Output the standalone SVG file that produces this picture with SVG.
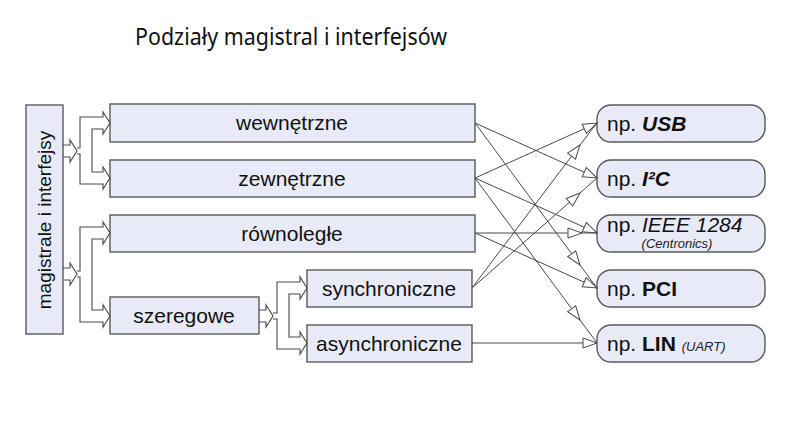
<svg xmlns="http://www.w3.org/2000/svg" width="800" height="426" viewBox="0 0 800 426">
<style>
.box{fill:#E8EBF7;stroke:#5a5a5a;stroke-width:1.4}
.t{font-family:"Liberation Sans",Arial,sans-serif;font-size:21px;fill:#111}
.s{font-family:"Liberation Sans",Arial,sans-serif;font-size:13px;font-style:italic;fill:#222}
.c{fill:none;stroke:#4a4a4a;stroke-width:1}
.h{fill:none;stroke:#4a4a4a;stroke-width:1.1}
</style>
<defs>
<marker id="ah" markerUnits="userSpaceOnUse" viewBox="-1 -1 16 12" refX="14" refY="5" markerWidth="16" markerHeight="12" orient="auto" overflow="visible">
<path d="M0,0 L14,5 L0,10 Z" fill="#fff" stroke="#4a4a4a" stroke-width="1"/>
</marker>
</defs>
<rect width="800" height="426" fill="#fff"/>
<text x="291" y="45" text-anchor="middle" font-family="'Noto Sans','Open Sans',sans-serif" font-size="23" fill="#111" textLength="312" lengthAdjust="spacingAndGlyphs">Podziały magistral i interfejsów</text>

<g id="n-magistrale">
<rect class="box" x="26" y="105" width="37" height="229"/>
<text class="t" font-size="19" transform="translate(51,220) rotate(-90)" text-anchor="middle" style="font-size:19px">magistrale i interfejsy</text>
</g>
<g id="n-wewnetrzne">
<rect class="box" x="110" y="104" width="365" height="38"/>
<text class="t" x="292" y="130" text-anchor="middle">wewnętrzne</text>
</g>
<g id="n-zewnetrzne">
<rect class="box" x="110" y="160" width="365" height="37"/>
<text class="t" x="292" y="186" text-anchor="middle">zewnętrzne</text>
</g>
<g id="n-rownolegle">
<rect class="box" x="110" y="215" width="365" height="37"/>
<text class="t" x="292" y="241" text-anchor="middle">równoległe</text>
</g>
<g id="n-szeregowe">
<rect class="box" x="110" y="297" width="149" height="37"/>
<text class="t" x="184" y="323" text-anchor="middle">szeregowe</text>
</g>
<g id="n-synchroniczne">
<rect class="box" x="307" y="270" width="165" height="37"/>
<text class="t" x="389" y="296" text-anchor="middle">synchroniczne</text>
</g>
<g id="n-asynchroniczne">
<rect class="box" x="307" y="325" width="165" height="37"/>
<text class="t" x="389" y="351" text-anchor="middle">asynchroniczne</text>
</g>

<g id="n-usb">
<rect class="box" x="597" y="105" width="168" height="37" rx="14"/>
<text class="t" x="607" y="131">np. <tspan font-weight="bold" font-style="italic">USB</tspan></text>
</g>
<g id="n-i2c">
<rect class="box" x="597" y="160" width="168" height="37" rx="14"/>
<text class="t" x="607" y="186">np. <tspan font-weight="bold" font-style="italic">I²C</tspan></text>
</g>
<g id="n-ieee">
<rect class="box" x="597" y="215" width="168" height="37" rx="14"/>
<text class="t" x="607" y="232">np. <tspan font-style="italic">IEEE 1284</tspan></text>
<text class="s" x="677" y="248" text-anchor="middle">(Centronics)</text>
</g>
<g id="n-pci">
<rect class="box" x="597" y="270" width="168" height="37" rx="14"/>
<text class="t" x="607" y="296">np. <tspan font-weight="bold">PCI</tspan></text>
</g>
<g id="n-lin">
<rect class="box" x="597" y="325" width="168" height="37" rx="14"/>
<text class="t" x="607" y="351">np. <tspan font-weight="bold">LIN</tspan> <tspan class="s">(UART)</tspan></text>
</g>

<g id="connectors">
<path class="h" d="M63,145 L70,145 L70,140 L77,151 L70,162 L70,157 L63,157"/>
<path class="h" d="M77,148 L80,148 L80,117 L103,117 L103,112 L110,123 L103,134 L103,129 L92,129 L92,172 L103,172 L103,167 L110,178 L103,189 L103,184 L80,184 L80,154 L77,154"/>
<path class="h" d="M63,268 L70,268 L70,263 L77,274 L70,285 L70,280 L63,280"/>
<path class="h" d="M77,271 L80,271 L80,227 L103,227 L103,222 L110,233 L103,244 L103,239 L92,239 L92,310 L103,310 L103,305 L110,316 L103,327 L103,322 L80,322 L80,277 L77,277"/>
<path class="h" d="M259,310 L266,310 L266,305 L273,316 L266,327 L266,322 L259,322"/>
<path class="h" d="M273,313 L277,313 L277,282 L300,282 L300,277 L307,288 L300,299 L300,294 L289,294 L289,337 L300,337 L300,332 L307,343 L300,354 L300,349 L277,349 L277,319 L273,319"/>

<path class="c" d="M475,123 L597,178" marker-end="url(#ah)"/>
<path class="c" d="M475,123 L580,265 L597,288" marker-mid="url(#ah)"/>
<path class="c" d="M475,178 L597,123" marker-end="url(#ah)"/>
<path class="c" d="M475,178 L597,233" marker-end="url(#ah)"/>
<path class="c" d="M475,178 L580,320 L597,343" marker-mid="url(#ah)"/>
<path class="c" d="M475,233 L582,233 L597,233" marker-mid="url(#ah)"/>
<path class="c" d="M475,233 L597,288" marker-end="url(#ah)"/>
<path class="c" d="M472,288 L580,145 L597,123" marker-mid="url(#ah)"/>
<path class="c" d="M472,288 L580,193 L597,178" marker-mid="url(#ah)"/>
<path class="c" d="M472,343 L597,343" marker-end="url(#ah)"/>
</g>
</svg>
